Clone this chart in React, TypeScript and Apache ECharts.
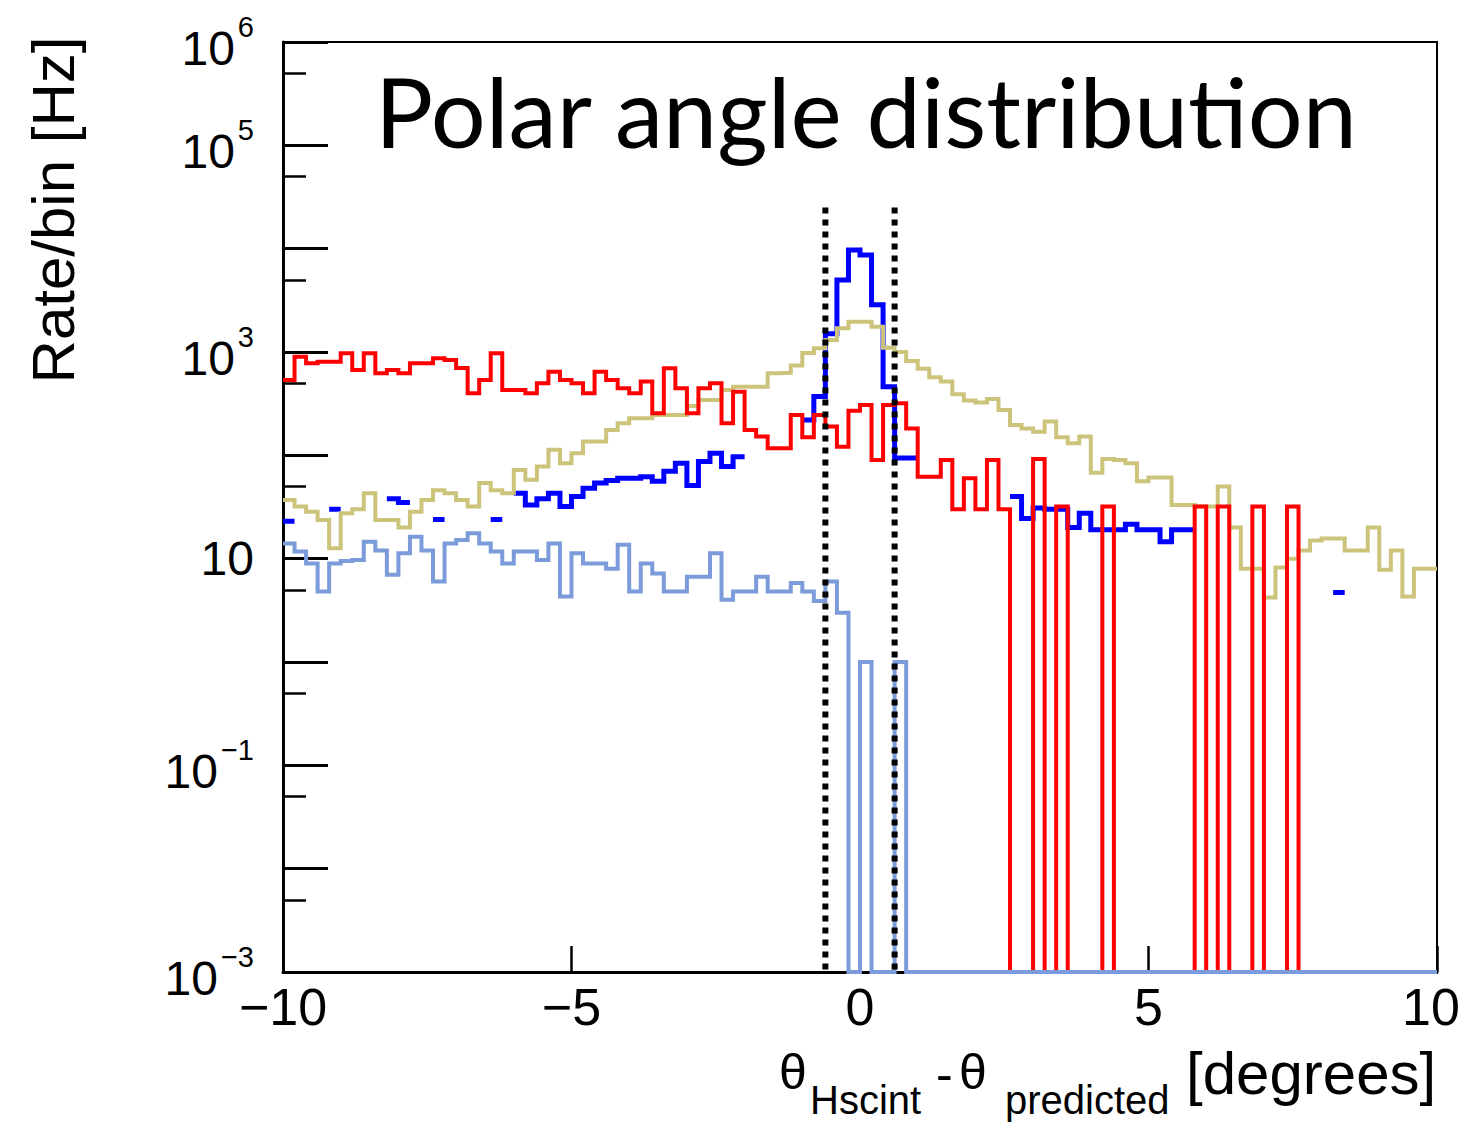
import React, { useEffect, useRef } from "react";
import * as echarts from "echarts";

// ---- axis ranges / binning ----
const X_MIN = -10;
const X_MAX = 10;
const BIN_WIDTH = 0.2;
const Y_MIN = 1e-3;
const Y_MAX = 1e6;

// ---- tick values ----
const xTickValues = [-10, -5, 0, 5, 10];
const yLabelExponents = [6, 5, 3, 1, -1, -3];
const yMinorTickValues = [5e-3, 5e-2, 5e-1, 5, 50, 500, 5e3, 5e4, 5e5];

// ---- histogram contents (rate per 0.2 degree bin, Hz); null = not drawn ----
const redRate = [
  536, 900, 780, 805, 805, 973, 670, 973, 622, 670,
  622, 780, 780, 870, 837, 700, 398, 536, 973, 429,
  429, 398, 498, 645, 536, 498, 398, 645, 536, 446,
  398, 517, 255, 697, 446, 255, 446, 498, 204, 413,
  176, 152, 117, 117, 246, 150, 246, 190, 121, 270,
  307, 90, 307, 319, 182, 62, 62, 90, 30, 60,
  30, 90, 30, 0, 0, 92, 0, 32, 0, 0,
  0, 32, 0, 0, 0, 0, 0, 0, 0, 32,
  0, 32, 0, 0, 32, 0, 0, 32, 0, 0,
  0, 0, 0, 0, 0, 0, 0, 0, 0, 0,
];

const blueRate = [
  23, null, null, null, 30, null, null, null, null, 38,
  35, null, null, 24, null, null, null, null, 24, null,
  43, 33, 38, 43, 32, 40, 48, 54, 57, 60,
  60, 62, 56, 70, 84, 51, 87, 105, 78, 97,
  null, null, null, null, null, 220, 370, 1500, 4980, 9700,
  8700, 2870, 462, 94, 94, null, null, null, null, null,
  null, null, null, 40, 24.5, 31, 30, 30, 20, 27.5,
  19, 19, 19, 21.5, 19, 19, 14.6, 19, 19, null,
  null, null, null, null, null, null, null, null, null, null,
  null, 4.7, null, null, null, null, null, null, null, null,
];

const khakiRate = [
  37, 32, 28.5, 23.7, 12.6, 27.5, 30, 43, 23.7, 23.7,
  20, 28.5, 37, 46, 43, 37, 32, 54, 46, 43,
  72, 58, 78, 113, 84, 105, 136, 136, 176, 204,
  228, 228, 246, 246, 246, 300, 344, 344, 429, 462,
  462, 462, 622, 630, 740, 980, 1087, 1307, 1700, 1963,
  1963, 1757, 1100, 1000, 820, 690, 570, 517, 390, 340,
  325, 350, 275, 197, 182, 169, 212, 150, 131, 152,
  68, 92, 90, 84, 56, 61, 61, 33, 33, 32,
  32, 50, 20, 8, 8, 4.2, 8.2, 10, 12, 15,
  15.7, 15.7, 12, 12, 20, 7.8, 12, 4.3, 8, 8,
];

const lightBlueRate = [
  14, 11.7, 9, 4.8, 9, 9.5, 9.7, 14.6, 12, 7,
  11.3, 16.3, 12, 6, 14, 15.2, 17.6, 14, 11.7, 9,
  11.7, 11.7, 9.7, 14, 4.3, 11.3, 9, 9, 8, 13.6,
  4.8, 9, 7.2, 4.8, 4.8, 6.7, 6.7, 11.3, 4, 4.8,
  4.8, 6.7, 4.8, 4.8, 5.8, 4.8, 3.9, 6, 3, 0,
  1, 0, 0, 1, 0, 0, 0, 0, 0, 0,
  0, 0, 0, 0, 0, 0, 0, 0, 0, 0,
  0, 0, 0, 0, 0, 0, 0, 0, 0, 0,
  0, 0, 0, 0, 0, 0, 0, 0, 0, 0,
  0, 0, 0, 0, 0, 0, 0, 0, 0, 0,
];

// ---- selection cut (dotted lines) ----
const cutEdges = [-0.6, 0.6];
const cutTop = 2.5e4;

// ---- colours ----
const RED = "#ff0000";
const BLUE = "#0000ff";
const KHAKI = "#cdc47c";
const LIGHT_BLUE = "#7b9bda";

const FONT = "Liberation Sans, Arial, Helvetica, sans-serif";
const W = 1461;
const H = 1123;

function stepPoints(values: (number | null)[]) {
  const pts: (number | null)[][] = [];
  values.forEach((v, i) => {
    const x0 = +(X_MIN + i * BIN_WIDTH).toFixed(4);
    const x1 = +(X_MIN + (i + 1) * BIN_WIDTH).toFixed(4);
    if (v === null) {
      pts.push([x0, null]);
      return;
    }
    const y = v > 0 ? v : Y_MIN;
    pts.push([x0, y], [x1, y]);
  });
  return pts;
}

function histSeries(name: string, values: (number | null)[], color: string, width: number) {
  return {
    name,
    type: "line",
    data: stepPoints(values),
    showSymbol: false,
    symbol: "none",
    connectNulls: false,
    clip: false,
    silent: true,
    lineStyle: { color, width, join: "miter", cap: "butt" },
    emphasis: { disabled: true },
  };
}

function cutSeries() {
  const pts: (number | null)[][] = [];
  cutEdges.forEach((x, i) => {
    if (i > 0) pts.push([x, null]);
    pts.push([x, cutTop], [x, Y_MIN]);
  });
  return {
    name: "cut",
    type: "line",
    data: pts,
    showSymbol: false,
    symbol: "none",
    connectNulls: false,
    clip: false,
    silent: true,
    lineStyle: { color: "#000", width: 6, type: [6, 6], cap: "butt" },
    emphasis: { disabled: true },
  };
}

export default function App() {
  const ref = useRef<HTMLDivElement>(null);

  useEffect(() => {
    if (!ref.current) return;
    document.documentElement.style.overflow = "hidden";
    document.body.style.overflow = "hidden";
    document.body.style.margin = "0";
    const chart = echarts.init(ref.current, undefined, { renderer: "svg", width: W, height: H });

    const option: any = {
      animation: false,
      backgroundColor: "#ffffff",
      grid: {
        left: 283,
        top: 42,
        right: 24,
        bottom: 151,
        show: true,
        borderColor: "#000",
        borderWidth: 2,
        containLabel: false,
        outerBoundsMode: "none",
      },
      xAxis: {
        type: "value",
        min: X_MIN,
        max: X_MAX,
        interval: 5,
        axisLine: { show: true, onZero: false, lineStyle: { color: "#000", width: 3 } },
        axisTick: { show: true, inside: true, length: 26, lineStyle: { color: "#000", width: 2.5 } },
        splitLine: { show: false },
        axisLabel: {
          show: true,
          margin: 9,
          color: "#000",
          fontFamily: FONT,
          fontSize: 52,
          formatter: (v: number) => {
            if (!xTickValues.includes(v)) return "";
            const txt = v < 0 ? "\u2212" + Math.abs(v) : String(v);
            return v === X_MAX ? "{edge|" + txt + "}" : txt;
          },
          rich: {
            edge: { fontSize: 52, fontFamily: FONT, color: "#000", padding: [0, 12, 0, 0] },
          },
        },
      },
      yAxis: [
        {
          type: "log",
          logBase: 10,
          min: Y_MIN,
          max: Y_MAX,
          splitNumber: 9,
          axisLine: { show: true, onZero: false, lineStyle: { color: "#000", width: 3 } },
          axisTick: { show: true, inside: true, length: 45, lineStyle: { color: "#000", width: 3 } },
          splitLine: { show: false },
          minorTick: { show: false },
          axisLabel: {
            show: true,
            margin: 29,
            color: "#000",
            fontFamily: FONT,
            verticalAlign: "middle",
            formatter: (v: number) => {
              const e = Math.round(Math.log10(v));
              if (!yLabelExponents.includes(e)) return "";
              if (e === 1) return "{p|10}";
              const sup = e < 0 ? "\u2212" + Math.abs(e) : String(e);
              return "{b|10}{s|" + sup + "}";
            },
            rich: {
              p: { fontSize: 48, fontFamily: FONT, color: "#000" },
              b: { fontSize: 48, fontFamily: FONT, color: "#000", padding: [12, 0, 0, 0], verticalAlign: "bottom" },
              s: { fontSize: 29, fontFamily: FONT, color: "#000", padding: [0, 0, 0, 3], verticalAlign: "top" },
            },
          },
        },
        {
          type: "value",
          position: "left",
          offset: 0,
          min: Math.log10(Y_MIN),
          max: Math.log10(Y_MAX),
          axisLine: { show: false, onZero: false },
          axisLabel: { show: false },
          splitLine: { show: false },
          axisTick: {
            show: true,
            inside: true,
            length: 23,
            customValues: yMinorTickValues.map((v) => Math.log10(v)),
            lineStyle: { color: "#000", width: 2.5 },
          },
        },
      ],
      series: [
        histSeries("blue", blueRate, BLUE, 5),
        histSeries("khaki", khakiRate, KHAKI, 4),
        histSeries("red", redRate, RED, 4),
        histSeries("lightblue", lightBlueRate, LIGHT_BLUE, 4),
        cutSeries(),
      ],
      graphic: [
        {
          type: "text",
          left: 375,
          top: 62,
          style: {
            text: "Polar angle distribution",
            fontFamily: "Lato, sans-serif",
            fontSize: 97,
            fill: "#000",
          },
        },
        {
          type: "text",
          x: 53,
          y: 210,
          rotation: Math.PI / 2,
          style: {
            text: "Rate/bin [Hz]",
            fontFamily: FONT,
            fontSize: 60,
            fill: "#000",
            align: "center",
            verticalAlign: "middle",
          },
        },
        { type: "text", x: 779, y: 1072, style: { text: "\u03b8", fontFamily: FONT, fontSize: 50, fill: "#000", verticalAlign: "middle" } },
        { type: "text", x: 810, y: 1100, style: { text: "Hscint", fontFamily: FONT, fontSize: 40, fill: "#000", verticalAlign: "middle" } },
        { type: "text", x: 936, y: 1074, style: { text: "-", fontFamily: FONT, fontSize: 50, fill: "#000", verticalAlign: "middle" } },
        { type: "text", x: 959, y: 1072, style: { text: "\u03b8", fontFamily: FONT, fontSize: 50, fill: "#000", verticalAlign: "middle" } },
        { type: "text", x: 1005, y: 1100, style: { text: "predicted", fontFamily: FONT, fontSize: 40, fill: "#000", verticalAlign: "middle" } },
        { type: "text", x: 1186, y: 1073, style: { text: "[degrees]", fontFamily: FONT, fontSize: 60, fill: "#000", verticalAlign: "middle" } },
      ],
    };

    chart.setOption(option);
    return () => {
      chart.dispose();
    };
  }, []);

  return (
    <div
      ref={ref}
      style={{ position: "fixed", left: 0, top: 0, width: W, height: H, background: "#fff" }}
    />
  );
}
